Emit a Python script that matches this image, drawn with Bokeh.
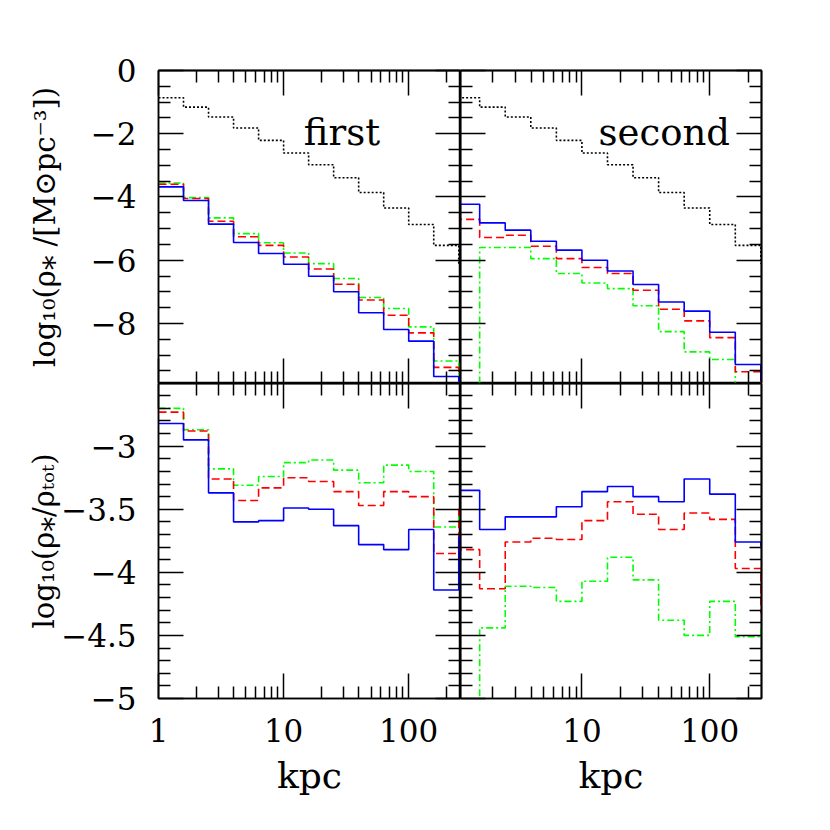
from bokeh.plotting import figure
from bokeh.models import (Range1d, LogAxis, LinearAxis, FixedTicker,
                          CustomJSTickFormatter, Label)
from bokeh.layouts import gridplot
from bokeh.embed import file_html
from bokeh.resources import INLINE

# ---------------- data ----------------
# radial bins: 0.2 dex wide, starting at 1 kpc (last entry = bin just past the axis end)
log_edges = [0.0, 0.2, 0.4, 0.6, 0.8, 1.0, 1.2, 1.4, 1.6, 1.8, 2.0, 2.2, 2.4, 2.6]
r_edges = [10 ** e for e in log_edges]

EMPTY = -20.0  # empty bin (log of zero), drawn off the bottom of the axis

# total (dark matter) density, same in both runs  [log10 Msun/pc^3]
total_density = [-0.86, -1.16, -1.47, -1.82, -2.21, -2.61, -2.98, -3.39,
                 -3.86, -4.35, -4.87, -5.53, -6.10]

# "first" run, stellar density
first_blue = [-3.68, -4.11, -4.86, -5.44, -5.79, -6.13, -6.51, -7.00,
              -7.66, -8.19, -8.56, -9.68, -9.83]
first_red = [-3.60, -4.05, -4.77, -5.26, -5.53, -5.90, -6.28, -6.76,
             -7.26, -7.74, -8.30, -9.39, -9.60]
first_green = [-3.56, -4.02, -4.66, -5.16, -5.45, -5.77, -6.11, -6.58,
               -7.18, -7.53, -8.11, -9.19, -9.65]

# "second" run, stellar density
second_blue = [-4.23, -4.82, -5.05, -5.40, -5.68, -6.00, -6.34, -6.77,
               -7.32, -7.61, -8.28, -9.30, -9.79]
second_red = [-4.71, -5.28, -5.21, -5.56, -5.95, -6.23, -6.42, -6.95,
              -7.55, -7.92, -8.45, -9.53, -10.32]
second_green = [EMPTY, -5.60, -5.60, -5.95, -6.42, -6.72, -6.90, -7.44,
                -8.26, -8.90, -9.14, -10.04, -10.42]

# "first" run, stellar / total
first_ratio_blue = [-2.82, -2.95, -3.37, -3.60, -3.59, -3.49, -3.50, -3.63,
                    -3.78, -3.82, -3.66, -4.14, -3.72]
first_ratio_red = [-2.73, -2.88, -3.26, -3.43, -3.33, -3.25, -3.28, -3.36,
                   -3.47, -3.36, -3.40, -3.85, -3.50]
first_ratio_green = [-2.70, -2.87, -3.18, -3.31, -3.24, -3.13, -3.11, -3.19,
                     -3.29, -3.15, -3.20, -3.64, -3.55]

# "second" run, stellar / total
second_ratio_blue = [-3.35, -3.66, -3.56, -3.56, -3.48, -3.36, -3.32, -3.40,
                     -3.44, -3.26, -3.38, -3.76, -3.79]
second_ratio_red = [-3.82, -4.13, -3.76, -3.73, -3.74, -3.59, -3.44, -3.54,
                    -3.66, -3.53, -3.58, -3.97, -4.32]
second_ratio_green = [EMPTY, -4.44, -4.11, -4.12, -4.23, -4.07, -3.88, -4.06,
                      -4.38, -4.50, -4.23, -4.51, -4.42]

# tick positions
x_major_ticks = [1, 10, 100]
x_minor_ticks = [2, 3, 4, 5, 6, 7, 8, 9, 20, 30, 40, 50, 60, 70, 80, 90, 200]
y_top_major_ticks = [0, -2, -4, -6, -8]
y_top_minor_ticks = [-0.5, -1, -1.5, -2.5, -3, -3.5, -4.5, -5, -5.5,
                     -6.5, -7, -7.5, -8.5, -9, -9.5]
y_bot_major_ticks = [-3, -3.5, -4, -4.5, -5]
y_bot_minor_ticks = [-2.6, -2.7, -2.8, -2.9, -3.1, -3.2, -3.3, -3.4,
                     -3.6, -3.7, -3.8, -3.9, -4.1, -4.2, -4.3, -4.4,
                     -4.6, -4.7, -4.8, -4.9]

panel_names = ["first", "second"]
x_label = "kpc"
y_label_top = "log\u2081\u2080(\u03c1\u204e /[M\u2299pc\u207b\u00b3])"
y_label_bottom = "log\u2081\u2080(\u03c1\u204e/\u03c1\u209c\u2092\u209c)"

# ---------------- styling ----------------
FONT = "DejaVu Serif"
TICK_FS = "31px"
BLUE, RED, GREEN = "#0000ff", "#ff0000", "#00ff00"
DOTTED, DASHED, DASHDOT = "2 2", "8 4", "7 3 2 3"
MAJOR_LEN, MINOR_LEN = 25, 12

LABEL_CODE = """
var a = Math.abs(tick);
var s = (Math.round(a * 10) / 10).toString();
return (tick < -1e-9 ? "\\u2212" : "") + s;
"""


def base_style(ax):
    ax.axis_line_color = "black"
    ax.axis_line_width = 1.5
    ax.major_tick_out = 0
    ax.minor_tick_out = 0
    ax.major_tick_line_width = 1.5
    ax.minor_tick_line_width = 1.5
    ax.major_tick_line_color = "black"
    ax.minor_tick_line_color = "black"


def labeled_axis(kind, major, minor):
    cls = LogAxis if kind == "log" else LinearAxis
    ax = cls(ticker=FixedTicker(ticks=major, minor_ticks=minor),
             formatter=CustomJSTickFormatter(code=LABEL_CODE))
    base_style(ax)
    ax.major_tick_in = MAJOR_LEN
    ax.minor_tick_in = MINOR_LEN
    ax.major_label_text_font = FONT
    ax.major_label_text_font_size = TICK_FS
    ax.major_label_text_color = "black"
    ax.axis_label_text_font = FONT
    ax.axis_label_text_font_style = "normal"
    ax.axis_label_text_color = "black"
    return ax


def tick_only_axes(kind, major, minor):
    """Two label-free axes: long marks at the major positions, short at the minor."""
    cls = LogAxis if kind == "log" else LinearAxis
    out = []
    for pos, length in ((major, MAJOR_LEN), (minor, MINOR_LEN)):
        ax = cls(ticker=FixedTicker(ticks=[], minor_ticks=pos))
        base_style(ax)
        ax.major_tick_in = 0
        ax.minor_tick_in = length
        ax.major_label_standoff = 0
        ax.axis_label_standoff = 0
        out.append(ax)
    return out


def make_panel(col, top):
    if col == 0:
        xr = Range1d(10 ** 0.0, 10 ** 2.414)
        fw, bl, br = 302, 158, 0
    else:
        xr = Range1d(10 ** 0.05, 10 ** 2.405)
        fw, bl, br = 301, 0, 50
    if top:
        yr = Range1d(-9.9, 0.0)
        fh, bt, bb = 313, 70, 0
        ymaj, ymin = y_top_major_ticks, y_top_minor_ticks
    else:
        yr = Range1d(-5.0, -2.503)
        fh, bt, bb = 315, 0, 118
        ymaj, ymin = y_bot_major_ticks, y_bot_minor_ticks
    p = figure(x_axis_type="log", x_range=xr, y_range=yr,
               frame_width=fw, frame_height=fh,
               min_border_left=bl, min_border_right=br,
               min_border_top=bt, min_border_bottom=bb,
               x_axis_location=None, y_axis_location=None,
               toolbar_location=None, tools="", output_backend="svg")
    p.grid.visible = False
    p.outline_line_color = "black"
    p.outline_line_width = 1.5
    p.background_fill_color = "white"
    p.border_fill_color = "white"

    # x axes
    if top:
        for ax in tick_only_axes("log", x_major_ticks, x_minor_ticks):
            p.add_layout(ax, "below")
    else:
        xa = labeled_axis("log", x_major_ticks, x_minor_ticks)
        xa.axis_label = x_label
        xa.axis_label_text_font_size = "36px"
        xa.major_label_standoff = 20
        xa.axis_label_standoff = 10
        p.add_layout(xa, "below")
    for ax in tick_only_axes("log", x_major_ticks, x_minor_ticks):
        p.add_layout(ax, "above")

    # y axes
    if col == 0:
        ya = labeled_axis("linear", ymaj, ymin)
        ya.axis_label = y_label_top if top else y_label_bottom
        ya.axis_label_text_font_size = "29px"
        ya.major_label_standoff = 22
        ya.axis_label_standoff = 26 if top else -3
        p.add_layout(ya, "left")
    else:
        for ax in tick_only_axes("linear", ymaj, ymin):
            p.add_layout(ax, "left")
    for ax in tick_only_axes("linear", ymaj, ymin):
        p.add_layout(ax, "right")
    return p


def draw_hist(p, vals, color, dash, width=1.6):
    xs = list(r_edges)
    ys = list(vals) + [vals[-1]]
    p.step(xs, ys, mode="after", line_color=color, line_width=width,
           line_dash=dash)


tl = make_panel(0, True)
tr = make_panel(1, True)
bl = make_panel(0, False)
br = make_panel(1, False)

for p in (tl, tr):
    draw_hist(p, total_density, "black", DOTTED, 1.6)

draw_hist(tl, first_green, GREEN, DASHDOT)
draw_hist(tl, first_red, RED, DASHED)
draw_hist(tl, first_blue, BLUE, "solid")

draw_hist(tr, second_green, GREEN, DASHDOT)
draw_hist(tr, second_red, RED, DASHED)
draw_hist(tr, second_blue, BLUE, "solid")

draw_hist(bl, first_ratio_green, GREEN, DASHDOT)
draw_hist(bl, first_ratio_red, RED, DASHED)
draw_hist(bl, first_ratio_blue, BLUE, "solid")

draw_hist(br, second_ratio_green, GREEN, DASHDOT)
draw_hist(br, second_ratio_red, RED, DASHED)
draw_hist(br, second_ratio_blue, BLUE, "solid")

tl.add_layout(Label(x=59.0, y=-1.96, text=panel_names[0], text_align="right",
                    text_baseline="alphabetic", text_font=FONT,
                    text_font_size="37px", text_color="black"))
tr.add_layout(Label(x=144.0, y=-1.96, text=panel_names[1], text_align="right",
                    text_baseline="alphabetic", text_font=FONT,
                    text_font_size="37px", text_color="black"))

grid = gridplot([[tl, tr], [bl, br]], toolbar_location=None)

open("out.html", "w").write(file_html(grid, INLINE))
